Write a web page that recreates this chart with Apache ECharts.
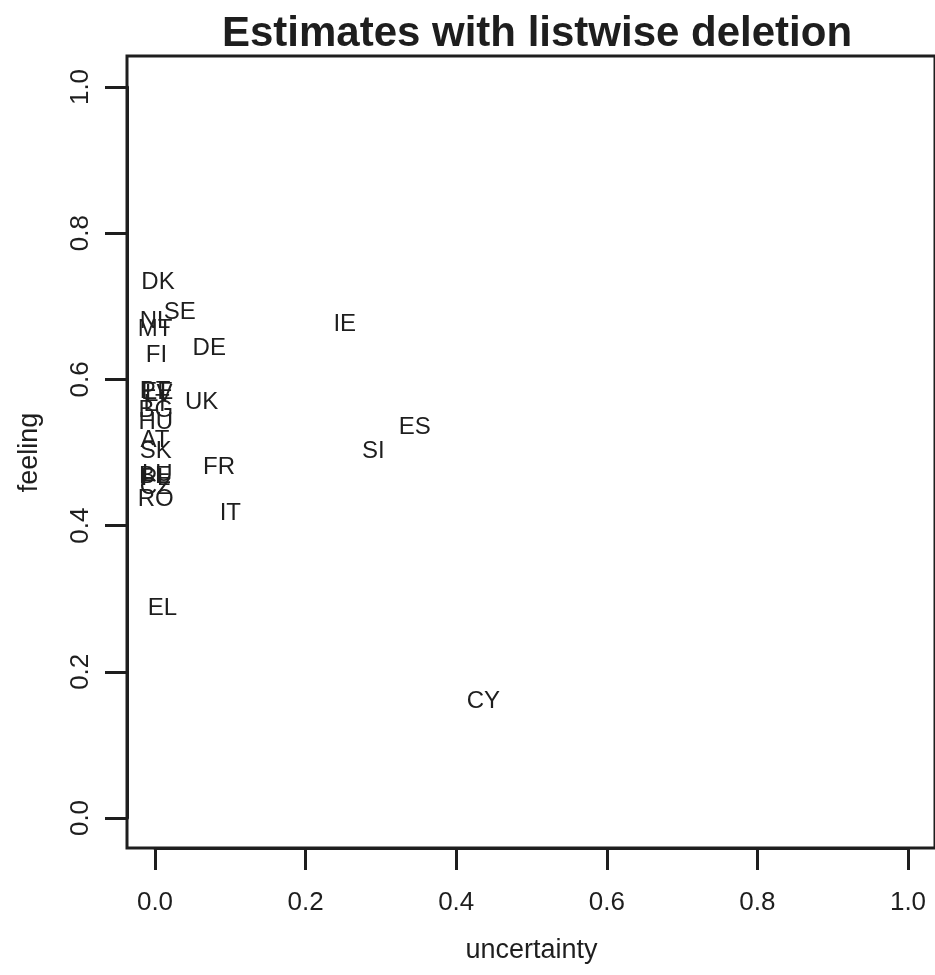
<!DOCTYPE html>
<html>
<head>
<meta charset="utf-8">
<script src="https://cdn.jsdelivr.net/npm/echarts@6/dist/echarts.min.js"></script>
<style>
  html, body { margin: 0; padding: 0; background: #fff; }
  #chart { width: 935px; height: 975px; }
</style>
</head>
<body>
<div id="chart"></div>
<script>
// country codes and their estimates
var countries = ['DK', 'SE', 'NL', 'MT', 'FI', 'DE', 'IE', 'PT', 'EE', 'LV', 'LT', 'BG', 'UK', 'HU',
  'ES', 'AT', 'SK', 'SI', 'FR', 'LU', 'BE', 'PL', 'CZ', 'RO', 'IT', 'EL', 'CY'];
var uncertainty = [0.004, 0.033, 0.000, 0.000, 0.002, 0.072, 0.252, 0.000, 0.003, 0.005, 0.002, 0.001, 0.062, 0.001,
  0.345, 0.000, 0.001, 0.290, 0.085, 0.003, 0.000, 0.001, 0.001, 0.001, 0.100, 0.010, 0.436];
var feeling = [0.733, 0.692, 0.680, 0.668, 0.633, 0.643, 0.675, 0.584, 0.582, 0.580, 0.566, 0.558, 0.569, 0.541,
  0.535, 0.517, 0.502, 0.501, 0.479, 0.470, 0.467, 0.465, 0.452, 0.436, 0.417, 0.287, 0.160];
var tickLabels = ['0.0', '0.2', '0.4', '0.6', '0.8', '1.0'];

var font = '"Liberation Sans", Arial, sans-serif';
var ink = '#1e1e1e';

var points = countries.map(function (c, i) {
  return [uncertainty[i], feeling[i], c];
});

function tickFmt(v) {
  return tickLabels[Math.round(v * 5)];
}

var chart = echarts.init(document.getElementById('chart'));
var option = {
  backgroundColor: '#fff',
  animation: false,
  title: {
    text: 'Estimates with listwise deletion',
    left: 532,
    top: 8,
    textAlign: 'center',
    textStyle: { fontFamily: font, fontSize: 42, fontWeight: 'bold', color: ink }
  },
  grid: [
    // data area, 0..1 on both axes
    { left: 155, top: 87, right: 27, bottom: 157 },
    // plot frame
    { left: 127, top: 56, right: -3, bottom: 127, show: true, borderColor: ink, borderWidth: 3 }
  ],
  xAxis: [
    {
      type: 'value', gridIndex: 0, min: 0, max: 1, interval: 0.2, offset: 30,
      name: 'uncertainty', nameLocation: 'middle', nameGap: 89,
      nameTextStyle: { fontFamily: font, fontSize: 27, color: ink },
      axisLine: { show: true, onZero: false, lineStyle: { color: ink, width: 3 } },
      axisTick: { show: true, length: 22, lineStyle: { color: ink, width: 3 } },
      axisLabel: { margin: 42, fontFamily: font, fontSize: 26, color: ink, formatter: tickFmt },
      splitLine: { show: false }
    },
    { type: 'value', gridIndex: 1, min: 0, max: 1, show: false, splitLine: { show: false } }
  ],
  yAxis: [
    {
      type: 'value', gridIndex: 0, min: 0, max: 1, interval: 0.2, offset: 28,
      name: 'feeling', nameLocation: 'middle', nameGap: 84,
      nameTextStyle: { fontFamily: font, fontSize: 27, color: ink },
      axisLine: { show: true, onZero: false, lineStyle: { color: ink, width: 3 } },
      axisTick: { show: true, length: 22, lineStyle: { color: ink, width: 3 } },
      axisLabel: { margin: 33, rotate: 90, fontFamily: font, fontSize: 26, color: ink, formatter: tickFmt },
      splitLine: { show: false }
    },
    { type: 'value', gridIndex: 1, min: 0, max: 1, show: false, splitLine: { show: false } }
  ],
  series: [
    {
      type: 'scatter',
      xAxisIndex: 0,
      yAxisIndex: 0,
      symbolSize: 0,
      itemStyle: { opacity: 1 },
      data: points,
      label: {
        show: true,
        position: 'inside',
        formatter: function (p) { return p.data[2]; },
        fontFamily: font,
        fontSize: 24,
        color: ink
      }
    }
  ]
};
chart.setOption(option);
</script>
</body>
</html>
